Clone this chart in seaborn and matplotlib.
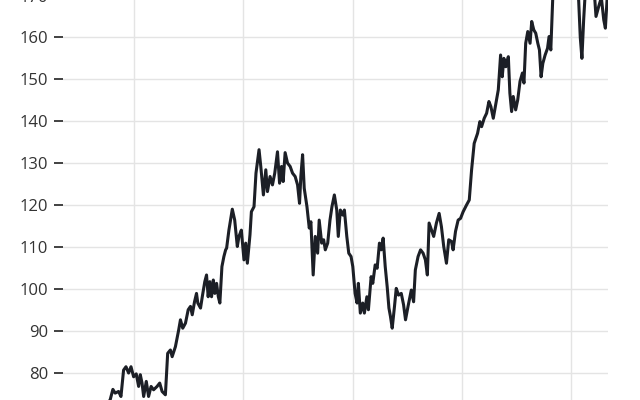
import matplotlib
matplotlib.use("Agg")
import matplotlib.pyplot as plt
from matplotlib.ticker import MultipleLocator
import seaborn as sns
import pandas as pd

# decimal years
t = [2014.347, 2014.411, 2014.485, 2014.559, 2014.632, 2014.706, 2014.779,
     2014.804, 2014.825, 2014.856, 2014.878, 2014.902, 2014.924, 2014.948, 2014.970, 2014.994,
     2015.018, 2015.040, 2015.055, 2015.071, 2015.086, 2015.110, 2015.131, 2015.154, 2015.177,
     2015.209, 2015.233, 2015.255, 2015.285, 2015.306, 2015.331, 2015.347, 2015.377, 2015.407,
     2015.423, 2015.444, 2015.469, 2015.494, 2015.515, 2015.531, 2015.552, 2015.570, 2015.582,
     2015.607, 2015.623, 2015.646, 2015.662, 2015.677, 2015.692, 2015.708, 2015.724, 2015.738,
     2015.754, 2015.770, 2015.784, 2015.803, 2015.821, 2015.837, 2015.846, 2015.867, 2015.898,
     2015.920, 2015.944, 2015.959, 2015.981, 2016.005, 2016.021, 2016.036, 2016.060, 2016.073,
     2016.097, 2016.115, 2016.143, 2016.159, 2016.183, 2016.205, 2016.220, 2016.244, 2016.266,
     2016.287, 2016.312, 2016.331, 2016.349, 2016.364, 2016.382, 2016.404, 2016.428, 2016.450,
     2016.474, 2016.496, 2016.514, 2016.526, 2016.542, 2016.557, 2016.582, 2016.603, 2016.618,
     2016.639, 2016.658, 2016.680, 2016.694, 2016.717, 2016.735, 2016.750, 2016.772, 2016.793,
     2016.811, 2016.833, 2016.855, 2016.869, 2016.888, 2016.910, 2016.925, 2016.947, 2016.965,
     2016.986, 2017.002, 2017.023, 2017.041, 2017.053, 2017.071, 2017.093, 2017.108, 2017.131,
     2017.145, 2017.170, 2017.185, 2017.207, 2017.225, 2017.246, 2017.262, 2017.280, 2017.299,
     2017.317, 2017.333, 2017.347, 2017.363, 2017.384, 2017.400, 2017.421, 2017.446, 2017.467,
     2017.485, 2017.508, 2017.538, 2017.559, 2017.575, 2017.600, 2017.623, 2017.646, 2017.667,
     2017.685, 2017.701, 2017.722, 2017.743, 2017.768, 2017.793, 2017.814, 2017.835, 2017.860,
     2017.881, 2017.906, 2017.921, 2017.943, 2017.967, 2017.989, 2018.013, 2018.044, 2018.069,
     2018.090, 2018.114, 2018.145, 2018.166, 2018.182, 2018.206, 2018.228, 2018.249, 2018.267,
     2018.289, 2018.313, 2018.335, 2018.356, 2018.371, 2018.386, 2018.404, 2018.427, 2018.441,
     2018.457, 2018.472, 2018.494, 2018.513, 2018.534, 2018.556, 2018.570, 2018.586, 2018.605,
     2018.626, 2018.641, 2018.660, 2018.678, 2018.697, 2018.712, 2018.727, 2018.743, 2018.764,
     2018.786, 2018.800, 2018.816, 2018.834, 2018.862, 2018.899, 2018.936, 2018.972, 2019.009,
     2019.046, 2019.071, 2019.086, 2019.101, 2019.117, 2019.131, 2019.165, 2019.193, 2019.218,
     2019.230, 2019.255, 2019.279, 2019.301, 2019.316, 2019.331, 2019.340]

price = [70.5, 71.8, 69.5, 71.0, 72.3, 70.8, 73.5,
         76.0, 75.1, 75.5, 74.3, 80.6, 81.4, 79.9, 81.4, 79.0,
         79.7, 76.7, 79.5, 77.5, 74.3, 77.9, 74.3, 76.7, 75.9,
         76.7, 77.5, 75.5, 74.7, 84.6, 85.4, 83.8, 86.2, 90.2,
         92.6, 90.6, 91.8, 95.0, 95.8, 93.8, 96.9, 98.9, 96.6,
         95.4, 98.1, 101.7, 103.3, 98.1, 101.7, 98.1, 102.1, 98.9,
         101.3, 98.1, 96.6, 105.3, 107.7, 109.3, 109.7, 114.0, 119.0,
         116.4, 110.1, 112.5, 114.0, 106.9, 110.9, 106.1, 112.9, 118.4,
         119.6, 127.6, 133.2, 129.2, 122.4, 128.4, 123.2, 126.8, 124.8,
         127.6, 132.7, 125.2, 129.2, 125.6, 132.5, 130.0, 129.2, 127.6,
         126.8, 124.8, 120.4, 126.8, 132.0, 124.0, 119.6, 114.5, 116.0,
         103.3, 112.5, 108.5, 116.4, 110.9, 111.7, 109.3, 110.9, 116.4,
         119.6, 122.4, 118.8, 112.5, 118.8, 117.6, 118.8, 112.5, 108.5,
         107.7, 105.3, 98.9, 96.6, 101.3, 94.2, 96.6, 94.2, 98.1,
         95.0, 102.9, 101.3, 105.7, 104.9, 110.9, 109.3, 112.1, 105.3,
         100.5, 95.4, 93.4, 90.6, 95.8, 100.1, 98.5, 98.9, 96.2,
         92.6, 95.8, 99.7, 96.9, 104.5, 107.7, 109.3, 108.5, 106.9,
         103.3, 115.7, 114.1, 112.5, 115.7, 118.0, 114.8, 110.1, 106.1,
         111.7, 111.3, 109.3, 113.7, 116.4, 116.8, 118.4, 120.0, 121.2,
         128.3, 134.7, 137.1, 139.9, 138.7, 140.7, 141.9, 144.7, 143.5,
         140.7, 144.3, 147.5, 155.8, 150.6, 155.0, 153.0, 155.4, 146.7,
         142.3, 145.9, 142.7, 145.1, 149.5, 151.5, 149.1, 158.6, 161.4,
         158.6, 163.8, 161.8, 161.0, 158.6, 157.0, 150.6, 153.8, 155.8,
         157.4, 160.2, 157.0, 169.5, 171.0, 170.2, 171.5, 170.0, 171.8,
         170.5, 169.0, 160.0, 155.0, 164.2, 170.5, 172.0, 171.0, 169.5,
         165.0, 167.4, 169.5, 164.2, 162.2, 169.0, 171.0]

y_ticks = list(range(80, 180, 10))

df = pd.DataFrame({"t": t, "price": price})

sns.set_theme(style="white")
plt.rcParams["font.family"] = ["Open Sans", "DejaVu Sans"]

fig = plt.figure(figsize=(6.4, 4.0), dpi=100)
ax = fig.add_axes([63 / 640, -0.141, 545 / 640, 1.257])

sns.lineplot(data=df, x="t", y="price", ax=ax, color="#1c1f26",
             linewidth=2.2, estimator=None, sort=False)

ax.set_xlim(t[0], t[-1])
ax.set_ylim(60, 180)
ax.set_yticks(y_ticks)
ax.set_yticklabels([str(v) for v in y_ticks])
ax.xaxis.set_major_locator(MultipleLocator(1))
ax.set_xticklabels([])
ax.grid(True, color="#e4e4e4", linewidth=1.0)
ax.set_axisbelow(True)
for s in ax.spines.values():
    s.set_visible(False)
ax.tick_params(axis="y", length=6.5, width=1.3, color="#333333",
               labelcolor="#333333", labelsize=12, pad=4.3, left=True)
ax.tick_params(axis="x", length=0)
ax.set_xlabel("")
ax.set_ylabel("")

fig.savefig("out.png", dpi=100)
